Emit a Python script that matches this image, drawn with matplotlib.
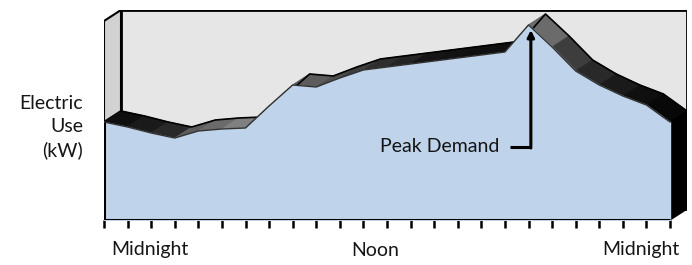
import matplotlib.pyplot as plt
import numpy as np
from matplotlib.patches import Polygon

# dữ liệu: công suất điện theo giờ (0 = nửa đêm, 24 = nửa đêm hôm sau)
hours = np.arange(0, 25)
kw = [49, 46.5, 43.5, 41, 44.5, 45.5, 46, 57, 67.5, 66.5, 71, 75, 76.5,
      78, 79.5, 81, 82.5, 84, 97.5, 86.5, 74.5, 67.5, 62, 57.5, 49]
label_names = ["Midnight", "Noon", "Midnight"]
label_hours = [1.95, 11.5, 22.75]
peak_hour = 18

# độ xám của mặt trên dải 3D cho từng đoạn
shade = [0.06, 0.1, 0.16, 0.36, 0.42, 0.5, 0.4, 0.4, 0.36, 0.3, 0.24, 0.18,
         0.14, 0.08, 0.07, 0.06, 0.06, 0.3, 0.42, 0.24, 0.16, 0.1, 0.06, 0.03]

plt.rcParams['font.family'] = ['Lato', 'DejaVu Sans']

fig = plt.figure(figsize=(6.92, 2.65), dpi=100)
ax = fig.add_axes([104 / 692, 45 / 265, 583 / 692, 210 / 265])
xmax = 24 * 583 / 566
ax.set_xlim(0, xmax)
ax.set_ylim(0, 105)
dx = xmax - 24          # độ lệch phối cảnh theo x (giờ)
dy = 5.5                # độ lệch phối cảnh theo y (kW)

# tường sau
ax.add_patch(Polygon([(dx, dy), (xmax, dy), (xmax, 105), (dx, 105)],
                     closed=True, fc="#e6e6e6", ec="black", lw=2, zorder=1))
# tường bên trái
ax.add_patch(Polygon([(0, kw[0]), (dx, kw[0] + dy), (dx, 105), (0, 105 - dy)],
                     closed=True, fc="#d2d2d2", ec="black", lw=1.5, zorder=2))

# dải 3D phía trên
for i in range(24):
    g = shade[i]
    quad = [(hours[i], kw[i]), (hours[i + 1], kw[i + 1]),
            (hours[i + 1] + dx, kw[i + 1] + dy), (hours[i] + dx, kw[i] + dy)]
    ax.add_patch(Polygon(quad, closed=True, fc=(g, g, g), ec=(g, g, g),
                         lw=0.6, zorder=3))
ax.plot(hours + dx, np.array(kw) + dy, color="black", lw=1.2, zorder=4)

# mặt bên phải (đen)
ax.add_patch(Polygon([(24, 0), (xmax, dy), (xmax, kw[-1] + dy), (24, kw[-1])],
                     closed=True, fc="black", ec="black", lw=1, zorder=4))

# vùng phía trước
ax.fill_between(hours, kw, 0, color="#bfd3ea", zorder=5)
ax.plot(hours, kw, color="#333333", lw=1.0, zorder=6)
ax.plot([0, 0, 24], [kw[0], 0, 0], color="black", lw=2.2, zorder=6,
        solid_capstyle="butt")

# trục x
ax.set_xticks(hours)
ax.set_xticklabels([])
ax.set_yticks([])
ax.tick_params(axis="x", direction="out", length=6, width=1.8, color="black")
for s in ax.spines.values():
    s.set_visible(False)
ax.patch.set_visible(False)

fs = 14
for name, h in zip(label_names, label_hours):
    ax.text(h, -15, name, ha="center", va="center", fontsize=fs,
            color="#151515", clip_on=False)

fig.text(83 / 692, 1 - 127 / 265, "Electric\nUse\n(kW)", ha="right",
         va="center", fontsize=fs, color="#151515", linespacing=1.45,
         multialignment="right")

# chú thích đỉnh tải
ax.text(16.75, 36.5, "Peak Demand", ha="right", va="center", fontsize=fs,
        color="#151515", zorder=8)
ax.plot([17.2, peak_hour + 0.1], [36.5, 36.5], color="black", lw=2.2,
        zorder=8, solid_capstyle="butt")
ax.annotate("", xy=(peak_hour + 0.1, 95), xytext=(peak_hour + 0.1, 36.0),
            arrowprops=dict(arrowstyle="-|>", lw=2.2, color="black",
                            mutation_scale=10, shrinkA=0, shrinkB=0),
            zorder=8)

plt.savefig("out.png", dpi=100)
